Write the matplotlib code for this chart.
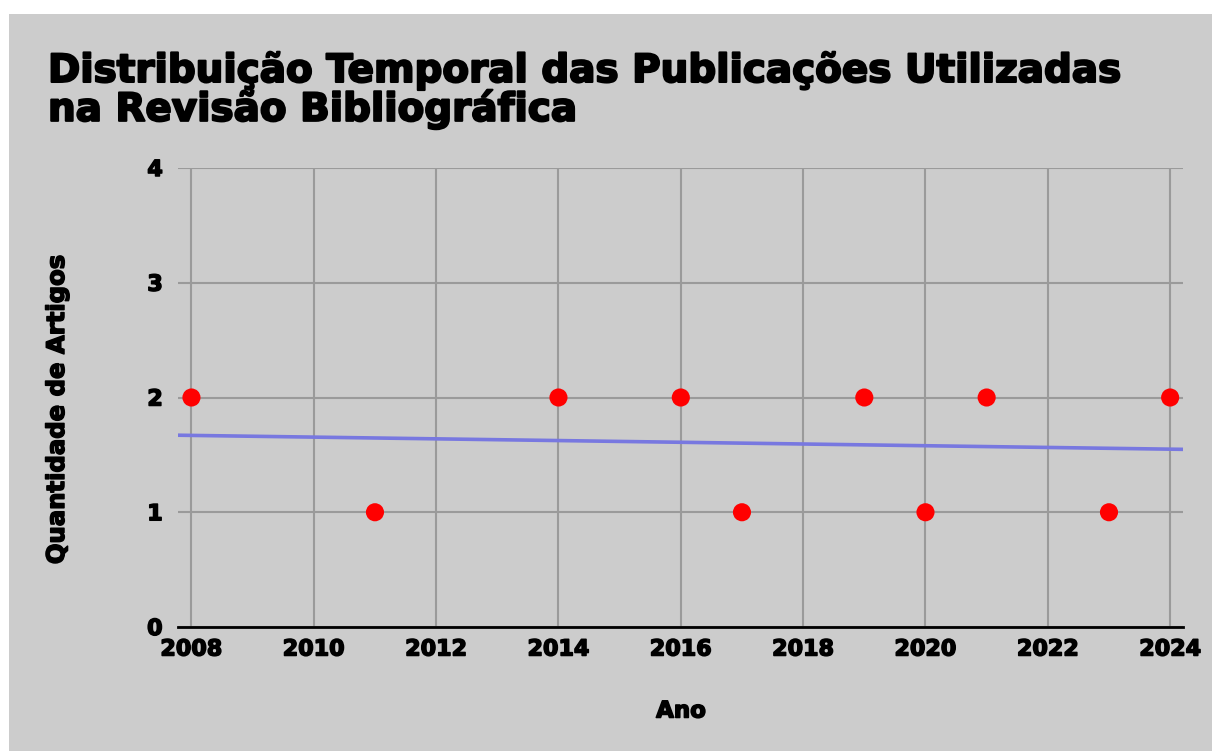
import matplotlib
matplotlib.use('Agg')
import matplotlib.pyplot as plt
import matplotlib.patheffects as pe
import numpy as np

# dados
anos = [2008, 2011, 2014, 2016, 2017, 2019, 2020, 2021, 2023, 2024]
quantidade = [2, 1, 2, 2, 1, 2, 1, 2, 1, 2]
xticks = list(range(2008, 2025, 2))
yticks = [0, 1, 2, 3, 4]

titulo = "Distribuição Temporal das Publicações Utilizadas\nna Revisão Bibliográfica"

plt.rcParams['font.family'] = ['DejaVu Sans']
plt.rcParams['font.weight'] = 'bold'

# contorno para engrossar o texto (parecido com Arial Black)
grosso = [pe.withStroke(linewidth=1.1, foreground='black')]

fig = plt.figure(figsize=(12.12, 7.51), dpi=100)
fig.patch.set_facecolor('white')
# fundo cinza (borda branca em cima e a esquerda)
fig.patches.append(plt.Rectangle((9 / 1212, 0), 1 - 9 / 1212, 1 - 14 / 751,
                                 transform=fig.transFigure, facecolor='#cccccc',
                                 edgecolor='none', zorder=-10))

ax = fig.add_axes([178 / 1212, 1 - 627 / 751, (1183 - 178) / 1212, (627 - 168) / 751])
ax.set_facecolor('#cccccc')

# linha de tendencia
coef = np.polyfit(anos, quantidade, 1)
xl = np.array([2007.78, 2024.21])
ax.plot(xl, np.polyval(coef, xl), color='#7878e0', lw=2.6, zorder=3)

ax.scatter(anos, quantidade, s=170, color='#ff0000', zorder=4, edgecolors='none')

ax.set_xlim(2007.78, 2024.21)
ax.set_ylim(0, 4)
ax.set_xticks(xticks)
ax.set_yticks(yticks)
ax.grid(True, color='#9a9a9a', lw=1.5)
ax.set_axisbelow(True)
for s in ['top', 'right', 'left']:
    ax.spines[s].set_visible(False)
ax.spines['bottom'].set_color('black')
ax.spines['bottom'].set_linewidth(2)
ax.tick_params(axis='both', length=0, labelsize=16)
ax.tick_params(axis='x', pad=9)
ax.tick_params(axis='y', pad=11)
for lab in ax.get_xticklabels() + ax.get_yticklabels():
    lab.set_fontweight('bold')
    lab.set_path_effects(grosso)

fig.text(681 / 1212, 1 - 711 / 751, 'Ano', ha='center', va='center', fontsize=16.5,
         fontweight='bold', path_effects=grosso)
fig.text(57 / 1212, 1 - 410 / 751, 'Quantidade de Artigos', ha='center', va='center',
         rotation=90, fontsize=17.5, fontweight='bold', path_effects=grosso)
fig.text(48 / 1212, 1 - 51 / 751, titulo, ha='left', va='top', fontsize=28,
         fontweight='bold', linespacing=0.98,
         path_effects=[pe.withStroke(linewidth=1.5, foreground='black')])

fig.savefig('out.png', dpi=100)
